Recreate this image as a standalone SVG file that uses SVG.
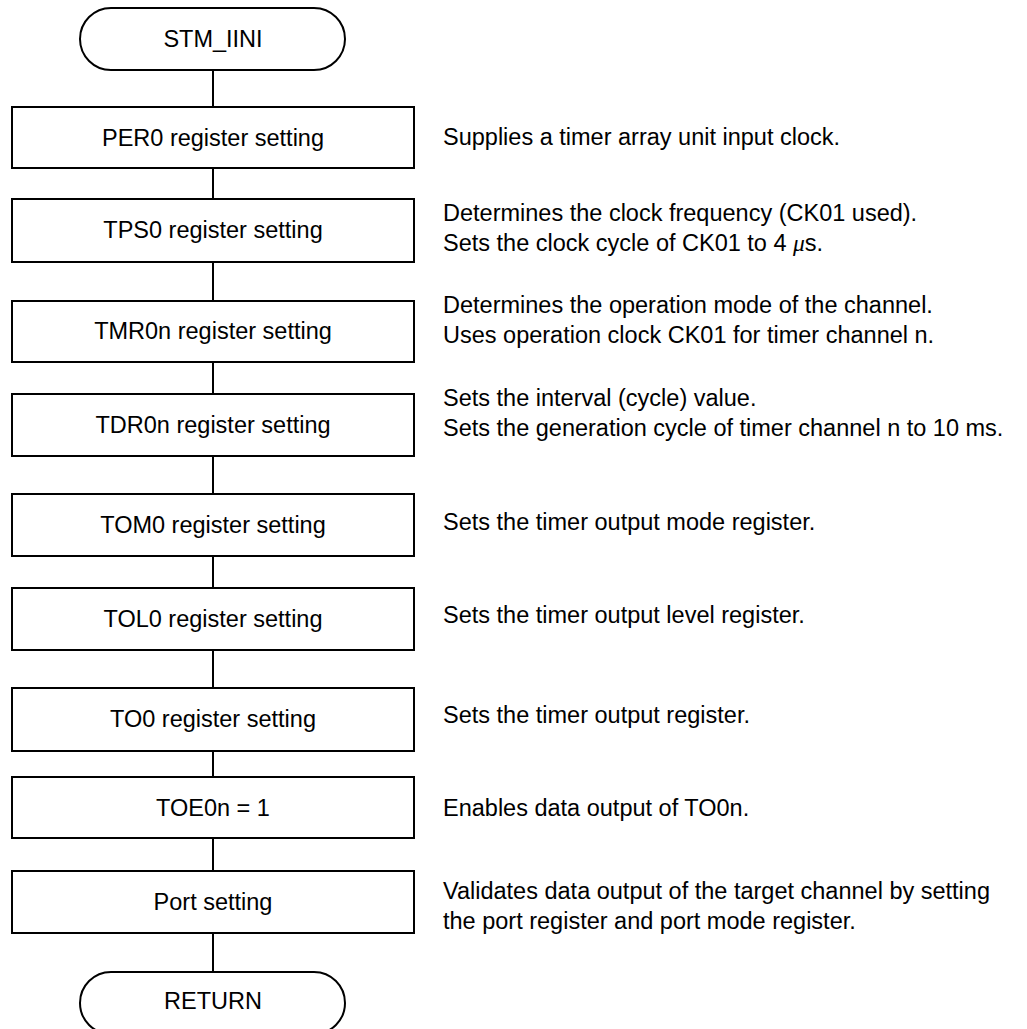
<svg xmlns="http://www.w3.org/2000/svg" width="1027" height="1029" viewBox="0 0 1027 1029">
<style>
.shape{fill:#fff;stroke:#000;stroke-width:2}
.conn{stroke:#000;stroke-width:2;fill:none}
.lbl{font-family:"Liberation Sans",Arial,sans-serif;font-size:23.5px;fill:#000;text-anchor:middle}
.desc{font-family:"Liberation Sans",Arial,sans-serif;font-size:23.5px;fill:#000}
.mu{font-family:"Liberation Serif","Times New Roman",serif;font-style:italic}
</style>
<rect width="1027" height="1029" fill="#fff"/>
<g id="connectors">
<line class="conn" x1="213" y1="70" x2="213" y2="107"/>
<line class="conn" x1="213" y1="168" x2="213" y2="199"/>
<line class="conn" x1="213" y1="262" x2="213" y2="301"/>
<line class="conn" x1="213" y1="362" x2="213" y2="394"/>
<line class="conn" x1="213" y1="456" x2="213" y2="494"/>
<line class="conn" x1="213" y1="556" x2="213" y2="588"/>
<line class="conn" x1="213" y1="650" x2="213" y2="688"/>
<line class="conn" x1="213" y1="751" x2="213" y2="777"/>
<line class="conn" x1="213" y1="838" x2="213" y2="871"/>
<line class="conn" x1="213" y1="933" x2="213" y2="972"/>
</g>
<g id="start">
<rect class="shape" x="80" y="8" width="265" height="62" rx="31" ry="31"/>
<text class="lbl" x="213" y="47">STM_IINI</text>
</g>
<g id="per0">
<rect class="shape" x="12" y="107" width="402" height="61"/>
<text class="lbl" x="213" y="146">PER0 register setting</text>
<text class="desc" x="443" y="145">Supplies a timer array unit input clock.</text>
</g>
<g id="tps0">
<rect class="shape" x="12" y="199" width="402" height="63"/>
<text class="lbl" x="213" y="238">TPS0 register setting</text>
<text class="desc" x="443" y="221">Determines the clock frequency (CK01 used).</text>
<text class="desc" x="443" y="251">Sets the clock cycle of CK01 to 4 <tspan class="mu">μ</tspan>s.</text>
</g>
<g id="tmr0n">
<rect class="shape" x="12" y="301" width="402" height="61"/>
<text class="lbl" x="213" y="339">TMR0n register setting</text>
<text class="desc" x="443" y="313">Determines the operation mode of the channel.</text>
<text class="desc" x="443" y="343">Uses operation clock CK01 for timer channel n.</text>
</g>
<g id="tdr0n">
<rect class="shape" x="12" y="394" width="402" height="62"/>
<text class="lbl" x="213" y="433">TDR0n register setting</text>
<text class="desc" x="443" y="406">Sets the interval (cycle) value.</text>
<text class="desc" x="443" y="436">Sets the generation cycle of timer channel n to 10 ms.</text>
</g>
<g id="tom0">
<rect class="shape" x="12" y="494" width="402" height="62"/>
<text class="lbl" x="213" y="533">TOM0 register setting</text>
<text class="desc" x="443" y="530">Sets the timer output mode register.</text>
</g>
<g id="tol0">
<rect class="shape" x="12" y="588" width="402" height="62"/>
<text class="lbl" x="213" y="627">TOL0 register setting</text>
<text class="desc" x="443" y="623">Sets the timer output level register.</text>
</g>
<g id="to0">
<rect class="shape" x="12" y="688" width="402" height="63"/>
<text class="lbl" x="213" y="727">TO0 register setting</text>
<text class="desc" x="443" y="723">Sets the timer output register.</text>
</g>
<g id="toe0n">
<rect class="shape" x="12" y="777" width="402" height="61"/>
<text class="lbl" x="213" y="816">TOE0n = 1</text>
<text class="desc" x="443" y="816">Enables data output of TO0n.</text>
</g>
<g id="port">
<rect class="shape" x="12" y="871" width="402" height="62"/>
<text class="lbl" x="213" y="910">Port setting</text>
<text class="desc" x="443" y="899">Validates data output of the target channel by setting</text>
<text class="desc" x="443" y="929">the port register and port mode register.</text>
</g>
<g id="return">
<rect class="shape" x="80" y="972" width="265" height="62" rx="31" ry="31"/>
<text class="lbl" x="213" y="1009">RETURN</text>
</g>
</svg>
